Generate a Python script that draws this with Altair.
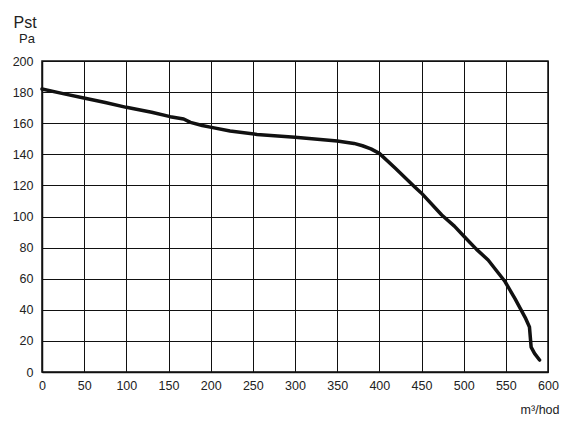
import altair as alt
import pandas as pd

# Airflow (m³/hod) and static pressure (Pa)
flow = [0, 25, 51, 75, 100, 130, 152, 168, 176, 190, 201, 223, 255, 300, 350, 370, 380, 390,
        400, 419, 442, 450, 474, 489, 500, 515, 529, 549, 561, 573, 578, 579, 580, 584, 590]
pst = [182, 179, 176, 173.3, 170.2, 167, 164.2, 162.7, 160.5, 158.5, 157.3, 155, 152.8, 151,
       148.5, 147, 145.5, 143.5, 140.6, 131, 119, 115, 101, 93.8, 87.5, 79, 72, 58.2, 47, 35,
       29, 22.5, 16, 12, 7.7]

x_ticks = list(range(0, 601, 50))
y_ticks = list(range(0, 201, 20))
unit_label = ["Pa"]

df = pd.DataFrame({"q": flow, "p": pst, "order": list(range(len(flow)))})

FONT = "Liberation Sans"

curve = (
    alt.Chart(df)
    .mark_line(color="#111111", strokeWidth=3.5, strokeJoin="round", strokeCap="round")
    .encode(
        x=alt.X("q:Q", scale=alt.Scale(domain=[0, 600], nice=False, zero=False),
                axis=alt.Axis(values=x_ticks, title="m³/hod", titleX=517, titleY=41,
                              titleAlign="right", titleBaseline="alphabetic",
                              titleFontSize=12.5, titleFontWeight="normal", titleFont=FONT,
                              titleColor="#222222")),
        y=alt.Y("p:Q", scale=alt.Scale(domain=[0, 200], nice=False, zero=False),
                axis=alt.Axis(values=y_ticks, title="Pst", titleAngle=0, titleX=-29, titleY=-34,
                              titleAlign="left", titleBaseline="alphabetic",
                              titleFontSize=16, titleFontWeight="normal", titleFont=FONT,
                              titleColor="#222222", labelPadding=9)),
        order="order:Q",
    )
)

unit = (
    alt.Chart(pd.DataFrame({"t": unit_label}))
    .mark_text(align="left", baseline="alphabetic", fontSize=13, font=FONT, color="#222222")
    .encode(text="t:N", x=alt.value(-23), y=alt.value(-18))
)

chart = (
    alt.layer(curve, unit)
    .properties(
        width=506,
        height=311,
        autosize=alt.AutoSizeParams(type="none"),
        padding={"left": 34, "top": 53, "right": 14, "bottom": 60},
    )
    .configure_axis(
        grid=True,
        gridColor="#111111",
        gridWidth=1,
        gridOpacity=1,
        domainColor="#111111",
        domainWidth=1.5,
        ticks=False,
        labelFont=FONT,
        labelFontSize=12.5,
        labelColor="#222222",
        labelPadding=7,
        labelFlush=False,
        labelOverlap=False,
    )
    .configure_view(stroke="#111111", strokeWidth=1.5)
)

chart.save("out.html", embed_options={"renderer": "svg", "actions": False})
